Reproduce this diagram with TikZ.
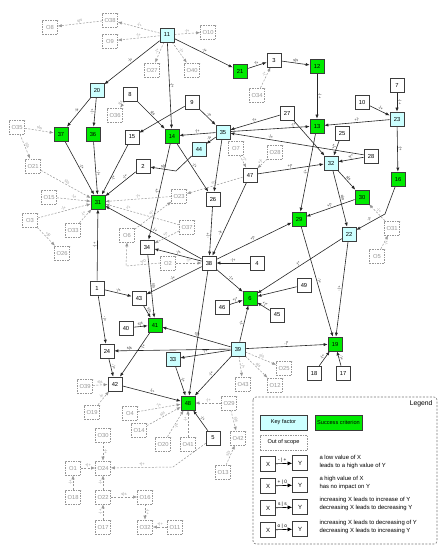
\documentclass[tikz,border=0pt]{standalone}
\usepackage{fontspec}
\setmainfont{Liberation Sans}
\usetikzlibrary{arrows.meta,backgrounds}
\definecolor{keyc}{RGB}{204,255,255}
\definecolor{succ}{RGB}{0,235,0}
\definecolor{bord}{RGB}{60,60,60}
\definecolor{oosc}{RGB}{150,150,150}
\tikzset{
 base/.style={draw=bord, line width=0.65pt, minimum width=14pt, minimum height=14pt, inner sep=0pt, font=\fontsize{5.8}{6}\selectfont},
 fac/.style={base, fill=white},
 key/.style={base, fill=keyc},
 suc/.style={base, fill=succ},
 oos/.style={base, draw=oosc, dash pattern=on 1.5pt off 1pt, text=oosc, minimum width=15pt, fill=white},
 ce/.style={draw=black!85, line width=0.6pt, -{Latex[length=4pt,width=3.2pt]}},
 de/.style={draw=oosc, line width=0.5pt, dash pattern=on 2pt off 1.5pt, -{Latex[length=4pt,width=3.2pt]}},
 lab/.style={sloped, above, inner sep=0.4pt, font=\fontsize{4}{4.3}\selectfont, text=black!80},
 dlab/.style={lab, text=oosc},
 legbox/.style={draw=oosc!80!black, dash pattern=on 2pt off 1.5pt, rounded corners=3pt, line width=0.6pt},
 legtxt/.style={anchor=west, align=left, font=\fontsize{5.9}{8}\selectfont},
 legar/.style={draw=black, line width=0.6pt, -{Latex[length=4.5pt,width=4pt]}},
 legbx/.style={fac, minimum width=15pt, minimum height=15pt, font=\fontsize{6}{6}\selectfont},
}
\begin{document}
\begin{tikzpicture}[x=1pt,y=-1pt]
\useasboundingbox (0,0) rectangle (443,550);
% nodes
\node[key] (n11) at (167,35) {11};
\node[oos] (o38) at (110,20) {O38};
\node[oos] (o8) at (50,27) {O8};
\node[oos] (o9) at (110,41) {O9};
\node[oos] (o10) at (208,32) {O10};
\node[oos] (o27) at (152,70) {O27};
\node[oos] (o40) at (192,70) {O40};
\node[suc] (n21) at (240,71) {21};
\node[fac] (n3) at (274,60) {3};
\node[suc] (n12) at (317,66) {12};
\node[oos] (o34) at (257,95) {O34};
\node[key] (n20) at (97,90) {20};
\node[fac] (n8) at (130,94) {8};
\node[fac] (n9) at (192,102) {9};
\node[oos] (o36) at (115,115) {O36};
\node[fac] (n7) at (397,85) {7};
\node[fac] (n10) at (362,102) {10};
\node[key] (n23) at (397,119) {23};
\node[fac] (n27) at (287,113) {27};
\node[suc] (n37) at (61,134) {37};
\node[suc] (n36) at (93,134) {36};
\node[fac] (n15) at (132,137) {15};
\node[suc] (n14) at (172,136) {14};
\node[key] (n35) at (223,132) {35};
\node[key] (n44) at (199,149) {44};
\node[suc] (n13) at (317,126) {13};
\node[fac] (n25) at (342,133) {25};
\node[oos] (o35) at (17,127) {O35};
\node[oos] (o7) at (236,148) {O7};
\node[oos] (o28) at (275,152) {O28};
\node[fac] (n2) at (143,166) {2};
\node[fac] (n47) at (250,175) {47};
\node[key] (n32) at (331,163) {32};
\node[fac] (n28) at (371,156) {28};
\node[suc] (n16) at (398,179) {16};
\node[suc] (n30) at (362,197) {30};
\node[oos] (o21) at (33,166) {O21};
\node[oos] (o15) at (49,197) {O15};
\node[suc] (n31) at (98,202) {31};
\node[oos] (o23) at (179,196) {O23};
\node[fac] (n26) at (213,199) {26};
\node[suc] (n29) at (299,219) {29};
\node[oos] (o3) at (30,220) {O3};
\node[oos] (o33) at (73,230) {O33};
\node[oos] (o6) at (127,235) {O6};
\node[oos] (o37) at (187,227) {O37};
\node[key] (n22) at (349,234) {22};
\node[oos] (o31) at (392,228) {O31};
\node[oos] (o26) at (62,253) {O26};
\node[fac] (n34) at (147,247) {34};
\node[fac] (n38) at (209,263) {38};
\node[fac] (n4) at (257,263) {4};
\node[oos] (o2) at (168,263) {O2};
\node[oos] (o5) at (377,256) {O5};
\node[fac] (n1) at (97,288) {1};
\node[fac] (n43) at (139,298) {43};
\node[suc] (n6) at (250,298) {6};
\node[fac] (n49) at (304,285) {49};
\node[fac] (n46) at (222,307) {46};
\node[fac] (n45) at (277,315) {45};
\node[fac] (n40) at (126,328) {40};
\node[suc] (n41) at (155,325) {41};
\node[key] (n39) at (238,349) {39};
\node[key] (n33) at (173,359) {33};
\node[suc] (n19) at (335,344) {19};
\node[fac] (n24) at (107,351) {24};
\node[oos] (o25) at (284,368) {O25};
\node[oos] (o43) at (243,384) {O43};
\node[oos] (o12) at (275,385) {O12};
\node[fac] (n18) at (314,373) {18};
\node[fac] (n17) at (343,373) {17};
\node[fac] (n42) at (115,384) {42};
\node[oos] (o39) at (85,386) {O39};
\node[oos] (o19) at (92,412) {O19};
\node[oos] (o4) at (130,413) {O4};
\node[oos] (o14) at (139,430) {O14};
\node[suc] (n48) at (188,403) {48};
\node[oos] (o29) at (229,403) {O29};
\node[fac] (n5) at (213,438) {5};
\node[oos] (o42) at (238,438) {O42};
\node[oos] (o20) at (163,444) {O20};
\node[oos] (o41) at (188,444) {O41};
\node[oos] (o13) at (223,472) {O13};
\node[oos] (o30) at (103,435) {O30};
\node[oos] (o24) at (103,468) {O24};
\node[oos] (o1) at (73,468) {O1};
\node[oos] (o18) at (73,497) {O18};
\node[oos] (o22) at (103,497) {O22};
\node[oos] (o16) at (145,497) {O16};
\node[oos] (o17) at (103,527) {O17};
\node[oos] (o32) at (145,527) {O32};
\node[oos] (o11) at (175,527) {O11};
% legend
\draw[legbox] (253,397) rectangle (437,544);
\node[anchor=east, font=\fontsize{6.8}{7}\selectfont] (legt) at (436,404) {Legend};
\node[key, minimum width=47pt, minimum height=15pt, font=\fontsize{5.6}{6}\selectfont] (lk) at (283.5,422.5) {Key factor};
\node[suc, minimum width=47pt, minimum height=15pt, font=\fontsize{5.6}{6}\selectfont] (ls) at (338.5,422.5) {Success criterion};
\node[oos, minimum width=47pt, minimum height=15pt, text=black, font=\fontsize{5.6}{6}\selectfont] (lo) at (283.5,442.5) {Out of scope};
\node[legbx] (lx1) at (268,464) {X};
\node[legbx] (ly1) at (300,463) {Y};
\node[legbx] (lx2) at (268,486) {X};
\node[legbx] (ly2) at (300,485) {Y};
\node[legbx] (lx3) at (268,508) {X};
\node[legbx] (ly3) at (300,507) {Y};
\node[legbx] (lx4) at (268,530) {X};
\node[legbx] (ly4) at (300,529) {Y};
\draw[legar] (lx1) -- node[above, pos=0.4, inner sep=0.5pt, font=\fontsize{4.8}{5}\selectfont]{- | +} (ly1);
\draw[legar] (lx2) -- node[above, pos=0.4, inner sep=0.5pt, font=\fontsize{4.8}{5}\selectfont]{+ | 0} (ly2);
\draw[legar] (lx3) -- node[above, pos=0.4, inner sep=0.5pt, font=\fontsize{4.8}{5}\selectfont]{s | s} (ly3);
\draw[legar] (lx4) -- node[above, pos=0.4, inner sep=0.5pt, font=\fontsize{4.8}{5}\selectfont]{o | o} (ly4);
\node[legtxt] (lt1) at (316,462) {a low value of X\\leads to a high value of Y};
\node[legtxt] (lt2) at (316,483) {a high value of X\\has no impact on Y};
\node[legtxt] (lt3) at (316,504) {increasing X leads to increase of Y\\decreasing X leads to decreasing Y};
\node[legtxt] (lt4) at (316,527) {increasing X leads to decreasing of Y\\decreasing X leads to increasing Y};
% edges
\begin{pgfonlayer}{background}
\draw[ce] (n11) -- node[lab]{-|+} (n20);
\draw[ce] (n11) -- node[lab]{-|+} (n14);
\draw[ce] (n11) -- node[lab]{-|+} (n21);
\draw[ce] (n21) -- node[lab]{-|+} (n3);
\draw[ce] (n3) -- node[lab]{s|s} (n12);
\draw[ce] (n12) -- node[lab]{-|+} (n13);
\draw[ce] (n20) -- node[lab]{-|+} (n37);
\draw[ce] (n20) -- node[lab]{-|+} (n36);
\draw[ce] (n8) -- node[lab]{s|s} (n14);
\draw[ce] (n9) -- (n15);
\draw[ce] (n9) -- node[lab]{-|+} (n35);
\draw[ce] (n35) -- node[lab]{-|+} (n14);
\draw[ce] (n27) -- node[lab]{-|+} (n35);
\draw[ce] (n28) -- node[lab, pos=0.7]{-|+} (n35);
\draw[ce] (n35) -- node[lab, pos=0.8]{-|+} (n13);
\draw[ce] (n35) -- node[lab]{-|+} (n44);
\draw[ce] (n44) -- (176,171) -- node[lab]{s|s} (n2);
\draw[ce] (n14) -- node[lab]{-|+} (n34);
\draw[ce] (n14) -- node[lab]{-|+} (n26);
\draw[ce] (n35) -- (n26);
\draw[ce] (n2) -- node[lab, pos=0.3]{-|+} (n31);
\draw[ce] (n15) -- node[lab, below, pos=0.65]{-|+} (n31);
\draw[ce] (n37) -- node[lab]{-|+} (n31);
\draw[ce] (n36) -- node[lab, pos=0.6]{-|+} (n31);
\draw[ce] (n1) -- node[lab]{-|+} (n31);
\draw[ce] (n38) -- node[lab]{-|+} (n31);
\draw[ce] (n26) -- node[lab, pos=0.6]{-|+} (n38);
\draw[ce] (n47) -- node[lab, pos=0.7]{-|+} (n38);
\draw[ce] (n4) -- node[lab]{-|+} (n38);
\draw[ce] (n38) -- node[lab]{-|+} (n34);
\draw[ce] (n38) -- node[lab]{-|+} (n43);
\draw[ce] (n38) -- node[lab]{+|*} (n29);
\draw[ce] (n38) -- node[lab]{-|+} (n6);
\draw[ce] (n38) -- (n48);
\draw[ce] (n27) -- (n32);
\draw[ce] (n25) -- node[lab]{+|*} (n32);
\draw[ce] (n28) -- node[lab]{+|*} (n32);
\draw[ce] (n47) -- node[lab]{+|*} (n32);
\draw[ce] (n23) -- node[lab]{+|-} (n13);
\draw[ce] (n10) -- node[lab]{-|+} (n23);
\draw[ce] (n7) -- node[lab]{-|+} (n23);
\draw[ce] (n23) -- node[lab]{-|+} (n16);
\draw[ce] (n16) -- (385,214) -- node[lab]{-|*} (n22);
\draw[ce] (n32) -- node[lab]{s|s} (n30);
\draw[ce] (n32) -- node[lab]{o|o} (n22);
\draw[ce] (n30) -- node[lab]{+|*} (n29);
\draw[ce] (n13) -- node[lab]{-|+} (n29);
\draw[ce] (n29) -- node[lab]{-|+} (n19);
\draw[ce] (n22) -- node[lab]{-|+} (n19);
\draw[ce] (n22) -- node[lab]{-|*} (n6);
\draw[ce] (n49) -- (n6);
\draw[ce] (n46) -- node[lab]{+|*} (n6);
\draw[ce] (n45) -- node[lab]{+|*} (n6);
\draw[ce] (n39) -- node[lab]{-|+} (n6);
\draw[ce] (n39) -- node[lab]{s|s} (n41);
\draw[ce] (n39) -- node[lab]{-|+} (n33);
\draw[ce] (n39) -- node[lab]{-|+} (n48);
\draw[ce] (n39) -- node[lab, pos=0.87]{s|s} (n24);
\draw[ce] (n39) -- node[lab]{-|*} (n19);
\draw[ce] (n33) -- node[lab]{-|+} (n48);
\draw[ce] (n42) -- node[lab]{-|+} (n48);
\draw[ce] (n5) -- node[lab]{-|+} (n48);
\draw[ce] (n18) -- node[lab]{-|+} (n19);
\draw[ce] (n17) -- node[lab]{-|+} (n19);
\draw[ce] (n1) -- node[lab]{-|+} (n43);
\draw[ce] (n1) -- node[lab]{-|+} (n24);
\draw[ce] (n43) -- node[lab]{s|s} (n41);
\draw[ce] (n40) -- node[lab]{s|s} (n41);
\draw[ce] (n34) -- node[lab]{s|s} (n41);
\draw[ce] (n41) -- node[lab, below, pos=0.3]{-|+} (n42);
\draw[ce] (n24) -- node[lab]{-|+} (n42);
% dashed
\draw[de] (n11) -- node[dlab]{-|+} (o38);
\draw[de] (o38) -- node[dlab]{s|s} (o8);
\draw[de] (n11) -- node[dlab]{-|+} (o9);
\draw[de] (n11) -- node[dlab]{-|+} (o10);
\draw[de] (n11) -- node[dlab]{-|+} (o27);
\draw[de] (n11) -- node[dlab]{-|+} (o40);
\draw[de] (o34) -- node[dlab, pos=0.6, font=\fontsize{3.6}{4}\selectfont]{-|+} (n3);
\draw[de] (n8) -- node[dlab]{s|s} (o36);
\draw[de] (o35) -- node[dlab]{s|s} (n37);
\draw[de] (o35) -- node[dlab]{s|s} (o21);
\draw[de] (o21) -- node[dlab]{s|s} (n31);
\draw[de] (o15) -- node[dlab]{-|+} (n31);
\draw[de] (o3) -- node[dlab]{-|+} (n31);
\draw[de] (o3) -- node[dlab]{+|0} (o26);
\draw[de] (o33) -- node[dlab]{-|+} (n31);
\draw[de] (o23) -- node[dlab]{-|+} (n31);
\draw[de] (o37) -- node[dlab, pos=0.7]{-|+} (n31);
\draw[de] (n47) -- node[dlab]{s|s} (o23);
\draw[de] (o7) -- node[dlab, pos=0.4, font=\fontsize{3.6}{4}\selectfont]{+|*} (n47);
\draw[de] (o28) -- node[dlab]{+|*} (n47);
\draw[de] (o6) -- node[dlab]{+|*} (o23);
\draw[de] (o37) -- node[dlab]{+|*} (n34);
\draw[de] (o2.west) -- node[dlab]{+|0} (126,266) -- (o6.south);
\draw[de] (o2) -- node[dlab]{-|+} (n38);
\draw[de] (o31) -- node[dlab]{-|+} (n30);
\draw[de] (o5) -- node[dlab, below, font=\fontsize{3.6}{4}\selectfont]{-|+} (o31);
\draw[de] (o39) -- node[dlab]{s|s} (n42);
\draw[de] (o19) -- node[dlab]{-|+} (n42);
\draw[de] (o4) -- node[dlab]{-|+} (n48);
\draw[de] (o14) -- node[dlab]{s|s} (n48);
\draw[de] (o20) -- node[dlab, below, pos=0.45]{-|+} (n48);
\draw[de] (o41) -- node[dlab, pos=0.65]{-|+} (n48);
\draw[de] (o29) -- node[dlab]{-|+} (n48);
\draw[de] (o29) -- node[dlab]{s|s} (o42);
\draw[de] (o13) -- node[dlab]{s|s} (o42);
\draw[de] (n39) -- node[dlab]{s|s} (o25);
\draw[de] (n39) -- node[dlab]{s|s} (o12);
\draw[de] (n39) -- node[dlab]{-|+} (o43);
\draw[de] (n5) -- (173,467) -- node[dlab]{+|+} (o24);
\draw[de] (o30) -- node[dlab]{-|+} (o24);
\draw[de] (o1) -- node[dlab]{+|+} (o24);
\draw[de] (o18) -- node[dlab]{-|+} (o1);
\draw[de] (o22) -- node[dlab]{-|+} (o24);
\draw[de] (o17) -- node[dlab]{-|+} (o22);
\draw[de] (o22) -- node[dlab]{s|s} (o16);
\draw[de] (o16) -- node[dlab]{-|+} (o32);
\draw[de] (o11) -- node[dlab]{+|+} (o32);
\end{pgfonlayer}
\end{tikzpicture}
\end{document}
